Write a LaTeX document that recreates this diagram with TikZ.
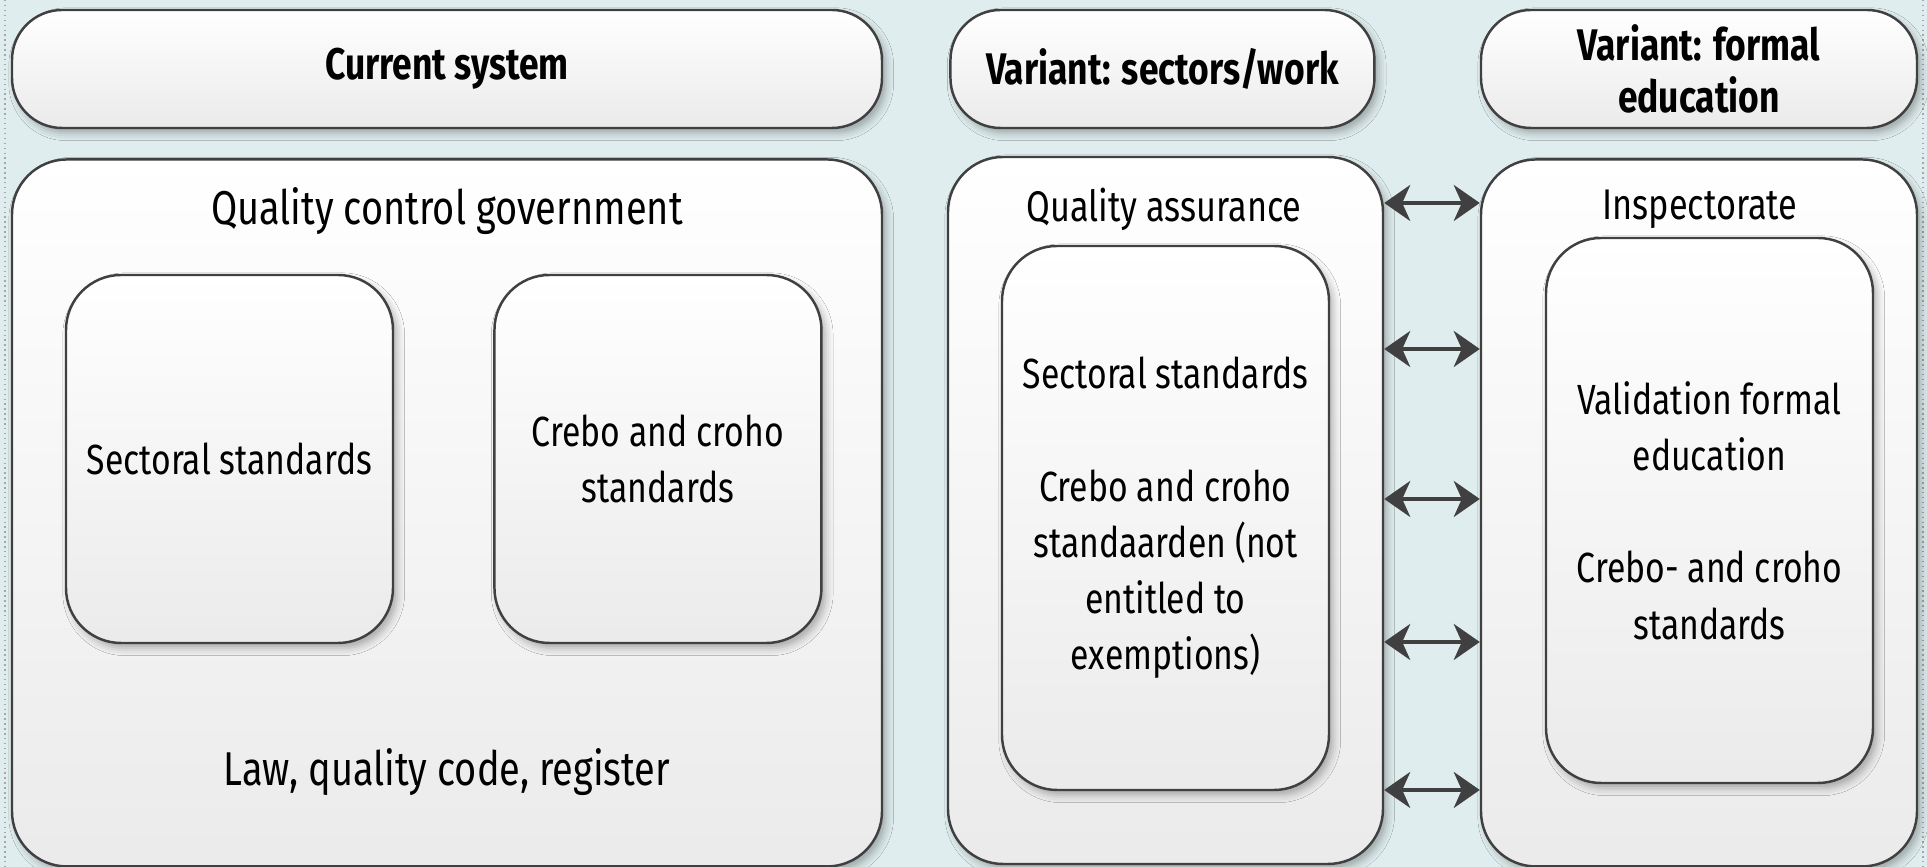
\documentclass[tikz,border=0pt]{standalone}
\usepackage{fontspec}
\setmainfont[FakeStretch=0.8]{Fira Sans}
\usepackage{tikz}
\usetikzlibrary{positioning,arrows.meta,shadows.blur}
\definecolor{bgblue}{HTML}{DFEDEE}
\definecolor{edge1}{HTML}{404040}

\begin{document}
\begin{tikzpicture}[
    hbox/.style={draw=edge1, line width=0.7pt, rounded corners=0.5cm,
                 top color=white, bottom color=black!8, align=center,
                 inner sep=0pt, font=\fontsize{12.6}{15}\selectfont\bfseries,
                 blur shadow={shadow blur steps=4, shadow xshift=1.2pt,
                 shadow yshift=-1.5pt, shadow opacity=30}},
    bbox/.style={hbox, rounded corners=0.55cm, font=\fontsize{12}{16}\selectfont},
    ttl/.style={font=\fontsize{13.5}{16}\selectfont, inner sep=0pt},
    sttl/.style={ttl, font=\fontsize{12.2}{16}\selectfont},
    dblarr/.style={{Stealth[length=2.6mm,width=3.6mm,inset=0.8mm]}-{Stealth[length=2.6mm,width=3.6mm,inset=0.8mm]},
                   line width=1pt, draw=edge1},
]
\useasboundingbox[fill=bgblue] (0,0) rectangle (19.27,-8.67);
\draw[densely dotted, black!35, line width=0.4pt] (0.05,0) -- (0.05,-8.67);
\draw[densely dotted, black!35, line width=0.4pt] (19.23,0) -- (19.23,-8.67);

% column headers
\node[hbox, minimum width=8.70cm, minimum height=1.18cm] (cur) at (4.47,-0.69) {Current system};
\node[hbox, minimum width=4.24cm, minimum height=1.18cm,
      right=0.66cm of cur] (varw) {Variant: sectors/work};
\node[hbox, minimum width=4.36cm, minimum height=1.18cm] (vare) at (16.99,-0.69) {Variant: formal\\education};

% big boxes
\node[bbox, minimum width=8.70cm, minimum height=7.07cm,
      below=0.29cm of cur] (qcg) {};
\node[bbox, minimum width=4.35cm, minimum height=7.07cm] (qa) at (11.655,-5.105) {};
\node[bbox, minimum width=4.36cm, minimum height=7.07cm,
      below=0.29cm of vare] (insp) {};

\node[ttl] (qcgt) at (4.47,-2.11) {Quality control government};
\node[ttl] (qcgb) at (4.47,-7.72) {Law, quality code, register};
\node[sttl] (qat) at (11.64,-2.09) {Quality assurance};
\node[sttl] (inspt) at (17.0,-2.09) {Inspectorate};

% inner boxes
\node[bbox, minimum width=3.27cm, minimum height=3.68cm] (sec) at (2.295,-4.59) {Sectoral standards};
\node[bbox, minimum width=3.27cm, minimum height=3.68cm,
      right=0.99cm of sec] (cre) {Crebo and croho\\standards};
\node[bbox, minimum width=3.27cm, minimum height=5.44cm] (qain) at (11.655,-5.18)
     {Sectoral standards\\[16pt]Crebo and croho\\standaarden (not\\entitled to\\exemptions)};
\node[bbox, minimum width=3.27cm, minimum height=5.45cm] (inspin) at (17.095,-5.105)
     {Validation formal\\education\\[16pt]Crebo- and croho\\standards};

% links between variants
\foreach \y in {2.03,3.49,4.99,6.42,7.90}
  \draw[dblarr] (qa.east |- 0,-\y) -- (insp.west |- 0,-\y);
\end{tikzpicture}
\end{document}
